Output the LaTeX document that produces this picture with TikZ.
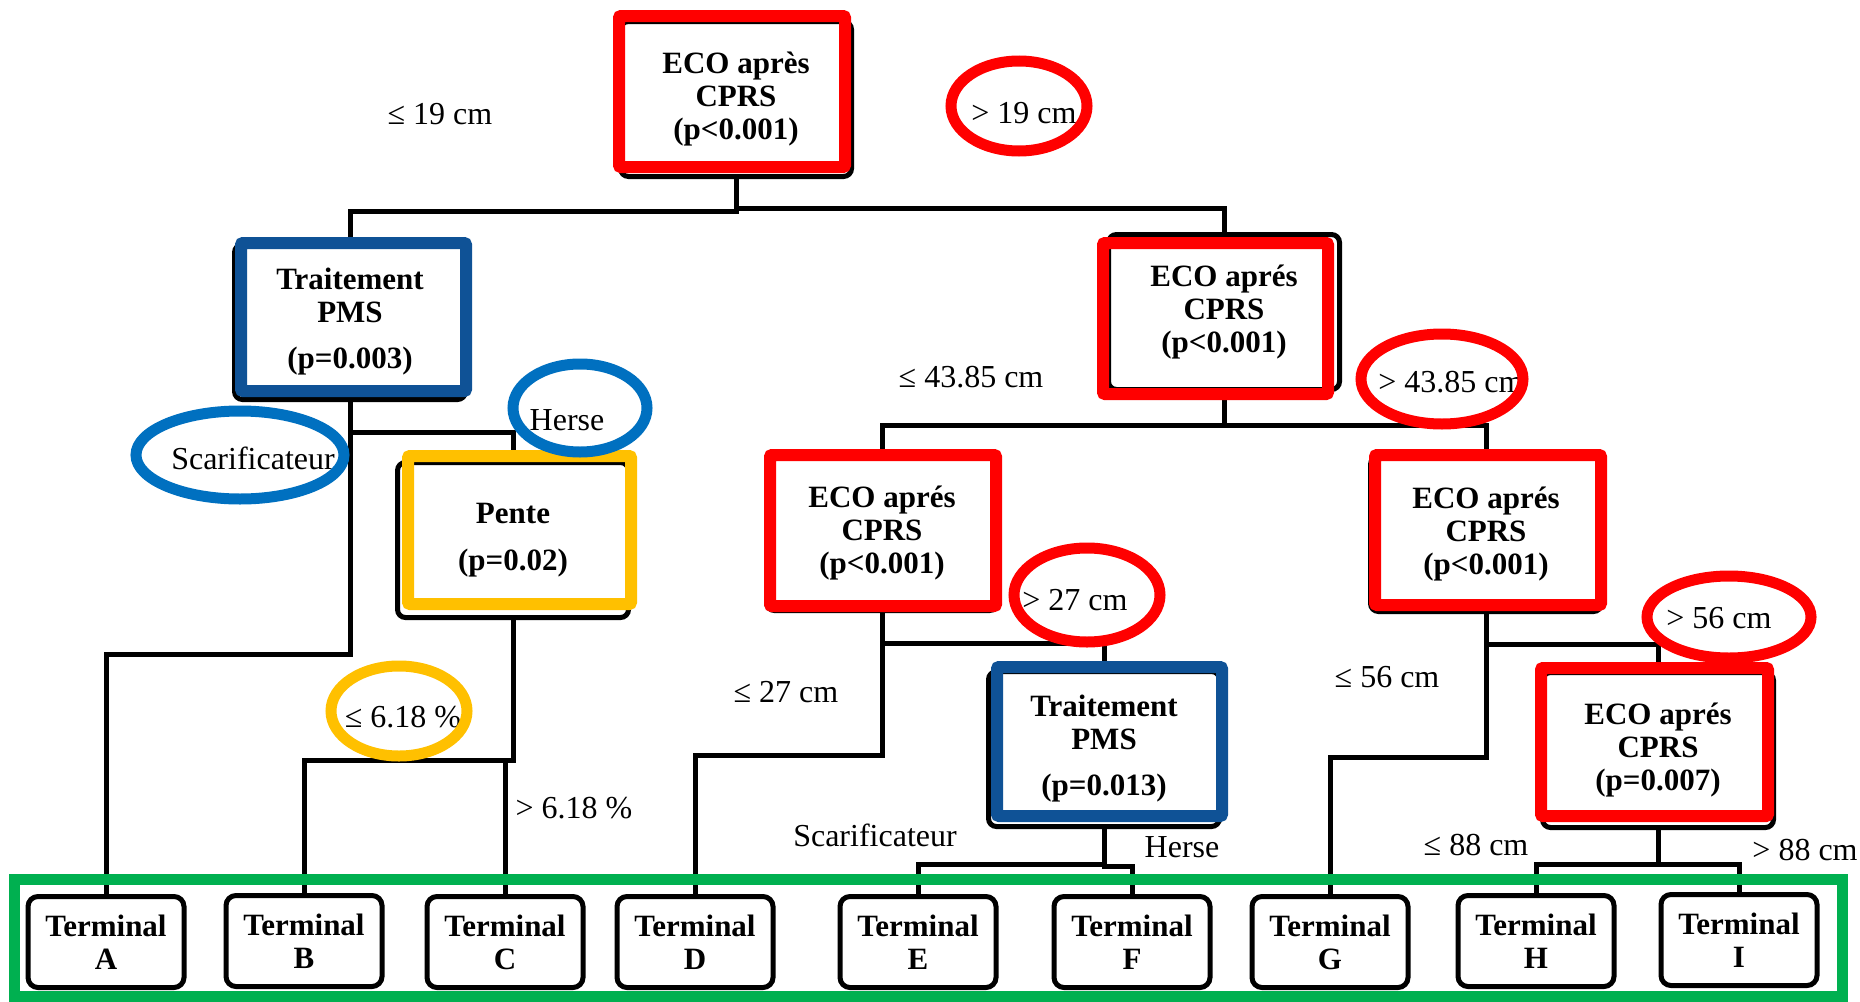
\documentclass[tikz,border=0pt]{standalone}
\usepackage{fontspec}
\setmainfont{Liberation Serif}
\usepackage{tikz}

\definecolor{hlred}{RGB}{255,0,0}
\definecolor{hlblue}{RGB}{15,82,150}
\definecolor{ringblue}{RGB}{0,112,192}
\definecolor{hlyellow}{RGB}{255,192,0}
\definecolor{hlgreen}{RGB}{0,176,80}

\newcommand{\boxfont}{\fontsize{31}{33}\selectfont\bfseries}
\newcommand{\lblfont}{\fontsize{32}{34}\selectfont}

\begin{document}
\begin{tikzpicture}[x=1pt,y=-1pt,
  splitbox/.style={rectangle,rounded corners=8pt,draw,line width=5pt,fill=white,
    minimum width=231pt,minimum height=155pt,inner sep=0pt,align=center,font=\boxfont},
  termbox/.style={rectangle,rounded corners=10pt,draw,line width=5pt,fill=white,
    minimum width=156pt,minimum height=91pt,inner sep=0pt,align=center,font=\boxfont},
  cond/.style={inner sep=0pt,font=\lblfont},
  conn/.style={draw,line width=5pt},
  frame/.style={line width=12pt,rounded corners=2pt},
  ring/.style={line width=11pt}]
\useasboundingbox (0,0) rectangle (1860,1001);

% split nodes
\node[splitbox] (root) at (736,99) {ECO après\\CPRS\\(p<0.001)};
\node[splitbox] (trt1) at (350,322) {Traitement\\PMS\\[13pt](p=0.003)};
\node[splitbox] (eco2) at (1224,312) {ECO aprés\\CPRS\\(p<0.001)};
\node[splitbox] (pente) at (513,540) {Pente\\[14pt](p=0.02)};
\node[splitbox] (eco3) at (882,533) {ECO aprés\\CPRS\\(p<0.001)};
\node[splitbox] (eco4) at (1486,534) {ECO aprés\\CPRS\\(p<0.001)};
\node[splitbox] (trt2) at (1104,749) {Traitement\\PMS\\[13pt](p=0.013)};
\node[splitbox] (eco5) at (1658,750) {ECO aprés\\CPRS\\(p=0.007)};

% terminal nodes
\node[termbox] (termA) at (106,942) {Terminal\\A};
\node[termbox] (termB) at (304,941) {Terminal\\B};
\node[termbox] (termC) at (505,942) {Terminal\\C};
\node[termbox] (termD) at (695,942) {Terminal\\D};
\node[termbox] (termE) at (918,942) {Terminal\\E};
\node[termbox] (termF) at (1132,942) {Terminal\\F};
\node[termbox] (termG) at (1330,942) {Terminal\\G};
\node[termbox] (termH) at (1536,941) {Terminal\\H};
\node[termbox] (termI) at (1739,940) {Terminal\\I};

% connectors
\draw[conn] (root.south) -- ++(0,32) -| (trt1.north);
\draw[conn] (root.south) -- ++(0,29) -| (eco2.north);
\draw[conn] (trt1.south) -- ++(0,30) -| (pente.north);
\draw[conn] (trt1.south) -- ++(0,252) -| (termA.north);
\draw[conn] (pente.south) -- ++(0,140) -| (termB.north);
\draw[conn] (pente.south) -- ++(0,140) -| (termC.north);
\draw[conn] (eco2.south) -- ++(0,33) -| (eco3.north);
\draw[conn] (eco2.south) -- ++(0,33) -| (eco4.north);
\draw[conn] (eco3.south) -- ++(0,30) -| (trt2.north);
\draw[conn] (eco3.south) -- ++(0,142) -| (termD.north);
\draw[conn] (trt2.south) -- ++(0,35) -| (termE.north);
\draw[conn] (trt2.south) -- ++(0,37) -| (termF.north);
\draw[conn] (eco4.south) -- ++(0,30) -| (eco5.north);
\draw[conn] (eco4.south) -- ++(0,143) -| (termG.north);
\draw[conn] (eco5.south) -- ++(0,34) -| (termH.north);
\draw[conn] (eco5.south) -- ++(0,34) -| (termI.north);

% split conditions
\node[cond] (le19) at (440,114) {≤ 19 cm};
\node[cond] (gt19) at (1024,113) {> 19 cm};
\node[cond] (scar1) at (253,458) {Scarificateur};
\node[cond] (herse1) at (567,420) {Herse};
\node[cond] (le618) at (403,717) {≤ 6.18 \%};
\node[cond] (gt618) at (574,808) {> 6.18 \%};
\node[cond] (le4385) at (971,377) {≤ 43.85 cm};
\node[cond] (gt4385) at (1451,382) {> 43.85 cm};
\node[cond] (le27) at (786,692) {≤ 27 cm};
\node[cond] (gt27) at (1075,600) {> 27 cm};
\node[cond] (scar2) at (875,835) {Scarificateur};
\node[cond] (herse2) at (1182,847) {Herse};
\node[cond] (le56) at (1387,677) {≤ 56 cm};
\node[cond] (gt56) at (1719,618) {> 56 cm};
\node[cond] (le88) at (1476,845) {≤ 88 cm};
\node[cond] (gt88) at (1805,850) {> 88 cm};

% highlight frames
\draw[frame,hlred] (619,16) rectangle (845,167);
\draw[frame,hlblue] (241,243) rectangle (466,391);
\draw[frame,hlyellow] (408,456) rectangle (631,604);
\draw[frame,hlred] (1103,243) rectangle (1328,394);
\draw[frame,hlred] (770,455) rectangle (996,606);
\draw[frame,hlred] (1375,455) rectangle (1601,605);
\draw[frame,hlblue] (997,667) rectangle (1222,816);
\draw[frame,hlred] (1541,668) rectangle (1768,816);
\draw[line width=11pt,hlgreen] (14,879) rectangle (1842,996);

% highlight rings
\draw[ring,hlred] (1019,106) ellipse [x radius=68pt,y radius=45pt];
\draw[ring,ringblue] (240,455) ellipse [x radius=104pt,y radius=44pt];
\draw[ring,ringblue] (580,408) ellipse [x radius=67pt,y radius=44pt];
\draw[ring,hlyellow] (399,711) ellipse [x radius=68pt,y radius=45pt];
\draw[ring,hlred] (1442,379) ellipse [x radius=81pt,y radius=45pt];
\draw[ring,hlred] (1087,595) ellipse [x radius=73pt,y radius=47pt];
\draw[ring,hlred] (1729,617) ellipse [x radius=82pt,y radius=41pt];
\end{tikzpicture}
\end{document}
